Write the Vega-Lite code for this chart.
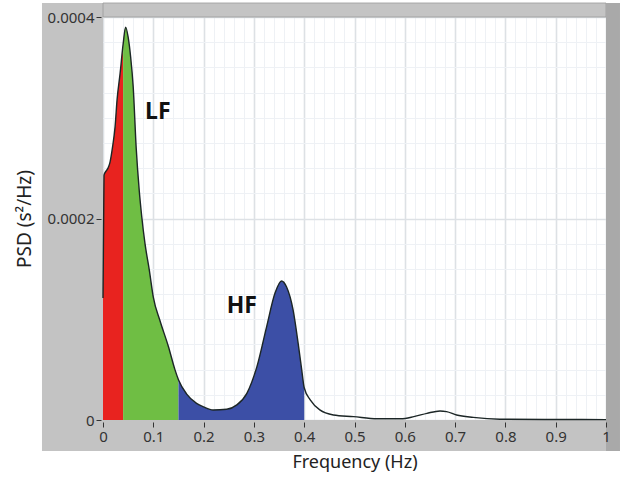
{
  "$schema": "https://vega.github.io/schema/vega-lite/v6.json",
  "width": 503,
  "height": 403,
  "autosize": "none",
  "padding": {"left": 103, "top": 17, "right": 18, "bottom": 65},
  "background": "white",
  "config": {"view": {"stroke": null, "fill": "white"}, "font": "Noto Sans"},
  "datasets": {
    "curve": [
      {"f": 0, "psd": 0.000121},
      {"f": 0.002, "psd": 0.000243},
      {"f": 0.006, "psd": 0.000247},
      {"f": 0.010, "psd": 0.000250},
      {"f": 0.014, "psd": 0.000256},
      {"f": 0.019, "psd": 0.000271},
      {"f": 0.024, "psd": 0.000291},
      {"f": 0.028, "psd": 0.000318},
      {"f": 0.034, "psd": 0.000344},
      {"f": 0.040, "psd": 0.000373},
      {"f": 0.045, "psd": 0.000390},
      {"f": 0.050, "psd": 0.000380},
      {"f": 0.055, "psd": 0.000360},
      {"f": 0.060, "psd": 0.000331},
      {"f": 0.066, "psd": 0.000270},
      {"f": 0.072, "psd": 0.000228},
      {"f": 0.077, "psd": 0.000202},
      {"f": 0.0835, "psd": 0.000175},
      {"f": 0.092, "psd": 0.000149},
      {"f": 0.100, "psd": 0.000122},
      {"f": 0.113, "psd": 0.000099},
      {"f": 0.130, "psd": 0.000073},
      {"f": 0.143, "psd": 0.000050},
      {"f": 0.150, "psd": 0.000040},
      {"f": 0.166, "psd": 0.000026},
      {"f": 0.186, "psd": 0.0000165},
      {"f": 0.200, "psd": 0.000013},
      {"f": 0.219, "psd": 0.000010},
      {"f": 0.246, "psd": 0.0000106},
      {"f": 0.266, "psd": 0.000015},
      {"f": 0.286, "psd": 0.0000265},
      {"f": 0.306, "psd": 0.000053},
      {"f": 0.325, "psd": 0.000092},
      {"f": 0.342, "psd": 0.000126},
      {"f": 0.355, "psd": 0.000138},
      {"f": 0.365, "psd": 0.000132},
      {"f": 0.378, "psd": 0.000109},
      {"f": 0.388, "psd": 0.000076},
      {"f": 0.395, "psd": 0.000050},
      {"f": 0.400, "psd": 0.000032},
      {"f": 0.412, "psd": 0.000020},
      {"f": 0.431, "psd": 0.000010},
      {"f": 0.458, "psd": 0.000005},
      {"f": 0.498, "psd": 0.0000033},
      {"f": 0.545, "psd": 0.0000012},
      {"f": 0.592, "psd": 0.0000012},
      {"f": 0.618, "psd": 0.0000033},
      {"f": 0.644, "psd": 0.0000066},
      {"f": 0.670, "psd": 0.000009},
      {"f": 0.683, "psd": 0.0000083},
      {"f": 0.703, "psd": 0.000005},
      {"f": 0.736, "psd": 0.0000026},
      {"f": 0.789, "psd": 0.0000008},
      {"f": 0.900, "psd": 0.0000005},
      {"f": 1.000, "psd": 0.0000004}
    ],
    "labels": [
      {"f": 0.109, "psd": 0.000306, "label": "LF"},
      {"f": 0.276, "psd": 0.000113, "label": "HF"}
    ]
  },
  "resolve": {"axis": {"x": "independent", "y": "independent"}},
  "layer": [
    {
      "data": {"values": [{}]},
      "mark": {"type": "rect", "color": "#c3c3c3", "clip": false},
      "encoding": {
        "x": {"datum": -0.1213, "type": "quantitative", "axis": null},
        "x2": {"datum": 0},
        "y": {"datum": -0.0000308, "type": "quantitative", "axis": null},
        "y2": {"datum": 0.0004139}
      }
    },
    {
      "data": {"values": [{}]},
      "mark": {"type": "rect", "color": "#c3c3c3", "clip": false},
      "encoding": {
        "x": {"datum": 0, "type": "quantitative", "axis": null},
        "x2": {"datum": 1},
        "y": {"datum": -0.0000308, "type": "quantitative", "axis": null},
        "y2": {"datum": 0}
      }
    },
    {
      "data": {"values": [{}]},
      "mark": {"type": "rect", "color": "#c4c4c4", "stroke": "#9a9a9a", "strokeWidth": 0.8, "clip": false},
      "encoding": {
        "x": {"datum": 0, "type": "quantitative", "axis": null},
        "x2": {"datum": 1},
        "y": {"datum": 0.0004, "type": "quantitative", "axis": null},
        "y2": {"datum": 0.0004139}
      }
    },
    {
      "data": {"values": [{}]},
      "mark": {"type": "rect", "color": "#a9a9a9", "clip": false},
      "encoding": {
        "x": {"datum": 1, "type": "quantitative", "axis": null},
        "x2": {"datum": 1.0278},
        "y": {"datum": -0.0000308, "type": "quantitative", "axis": null},
        "y2": {"datum": 0.0004139}
      }
    },
    {
      "data": {"name": "curve"},
      "transform": [{"filter": "datum.f <= 0.04"}],
      "mark": {"type": "area", "color": "#e8231f", "interpolate": "monotone"},
      "encoding": {
        "x": {
          "field": "f", "type": "quantitative",
          "scale": {"domain": [0, 1], "nice": false},
          "axis": {
            "orient": "bottom", "grid": true, "labels": false, "ticks": false, "domain": false, "title": null, "zindex": 0,
            "values": [0,0.02,0.04,0.06,0.08,0.1,0.12,0.14,0.16,0.18,0.2,0.22,0.24,0.26,0.28,0.3,0.32,0.34,0.36,0.38,0.4,0.42,0.44,0.46,0.48,0.5,0.52,0.54,0.56,0.58,0.6,0.62,0.64,0.66,0.68,0.7,0.72,0.74,0.76,0.78,0.8,0.82,0.84,0.86,0.88,0.9,0.92,0.94,0.96,0.98,1],
            "gridColor": {"condition": {"test": "abs(datum.value*10 - round(datum.value*10)) < 0.001", "value": "#dde1e5"}, "value": "#eef1f5"},
            "gridWidth": {"condition": {"test": "abs(datum.value*10 - round(datum.value*10)) < 0.001", "value": 1.6}, "value": 1}
          }
        },
        "y": {
          "field": "psd", "type": "quantitative", "stack": null,
          "scale": {"domain": [0, 0.0004], "nice": false},
          "axis": {
            "orient": "left", "grid": true, "labels": false, "ticks": false, "domain": false, "title": null, "zindex": 0,
            "values": [0,0.000025,0.00005,0.000075,0.0001,0.000125,0.00015,0.000175,0.0002,0.000225,0.00025,0.000275,0.0003,0.000325,0.00035,0.000375,0.0004],
            "gridColor": {"condition": {"test": "abs(datum.value*5000 - round(datum.value*5000)) < 0.001", "value": "#dde1e5"}, "value": "#eef1f5"},
            "gridWidth": {"condition": {"test": "abs(datum.value*5000 - round(datum.value*5000)) < 0.001", "value": 1.6}, "value": 1}
          }
        }
      }
    },
    {
      "data": {"name": "curve"},
      "transform": [{"filter": "datum.f >= 0.04 && datum.f <= 0.15"}],
      "mark": {"type": "area", "color": "#6fbe44", "interpolate": "monotone"},
      "encoding": {
        "x": {"field": "f", "type": "quantitative", "axis": null},
        "y": {"field": "psd", "type": "quantitative", "stack": null, "axis": null}
      }
    },
    {
      "data": {"name": "curve"},
      "transform": [{"filter": "datum.f >= 0.15 && datum.f <= 0.4"}],
      "mark": {"type": "area", "color": "#3c4fa6", "interpolate": "monotone"},
      "encoding": {
        "x": {"field": "f", "type": "quantitative", "axis": null},
        "y": {"field": "psd", "type": "quantitative", "stack": null, "axis": null}
      }
    },
    {
      "data": {"name": "curve"},
      "mark": {"type": "line", "color": "#1c2626", "strokeWidth": 1.4, "interpolate": "monotone"},
      "encoding": {
        "x": {
          "field": "f", "type": "quantitative",
          "axis": {
            "orient": "bottom", "grid": false, "domain": false, "zindex": 1, "offset": 2,
            "values": [0,0.1,0.2,0.3,0.4,0.5,0.6,0.7,0.8,0.9,1],
            "format": ".1~f",
            "tickColor": "#333333", "tickSize": 5, "tickWidth": 1,
            "labelFont": "Noto Sans", "labelFontSize": 15, "labelColor": "#333333", "labelPadding": 2,
            "labelFlush": false, "labelOverlap": false,
            "title": "Frequency (Hz)", "titleFont": "Noto Sans", "titleFontSize": 18, "titleFontWeight": "normal", "titleColor": "#222222", "titlePadding": 9
          }
        },
        "y": {
          "field": "psd", "type": "quantitative",
          "axis": {
            "orient": "left", "grid": false, "domain": false, "zindex": 1, "offset": 2,
            "values": [0, 0.0002, 0.0004],
            "format": ".4~f",
            "tickColor": "#333333", "tickSize": 5, "tickWidth": 1,
            "labelFont": "Noto Sans", "labelFontSize": 15, "labelColor": "#333333", "labelPadding": 2,
            "labelFlush": false, "labelOverlap": false,
            "title": "PSD (s²/Hz)", "titleFont": "Noto Sans", "titleFontSize": 19, "titleFontWeight": "normal", "titleColor": "#222222", "titlePadding": 13
          }
        }
      }
    },
    {
      "data": {"name": "labels"},
      "mark": {"type": "text", "font": "Noto Sans", "fontWeight": "bold", "fontSize": 23, "color": "#111111", "align": "center", "baseline": "middle"},
      "encoding": {
        "x": {"field": "f", "type": "quantitative", "axis": null},
        "y": {"field": "psd", "type": "quantitative", "axis": null},
        "text": {"field": "label"}
      }
    }
  ]
}
